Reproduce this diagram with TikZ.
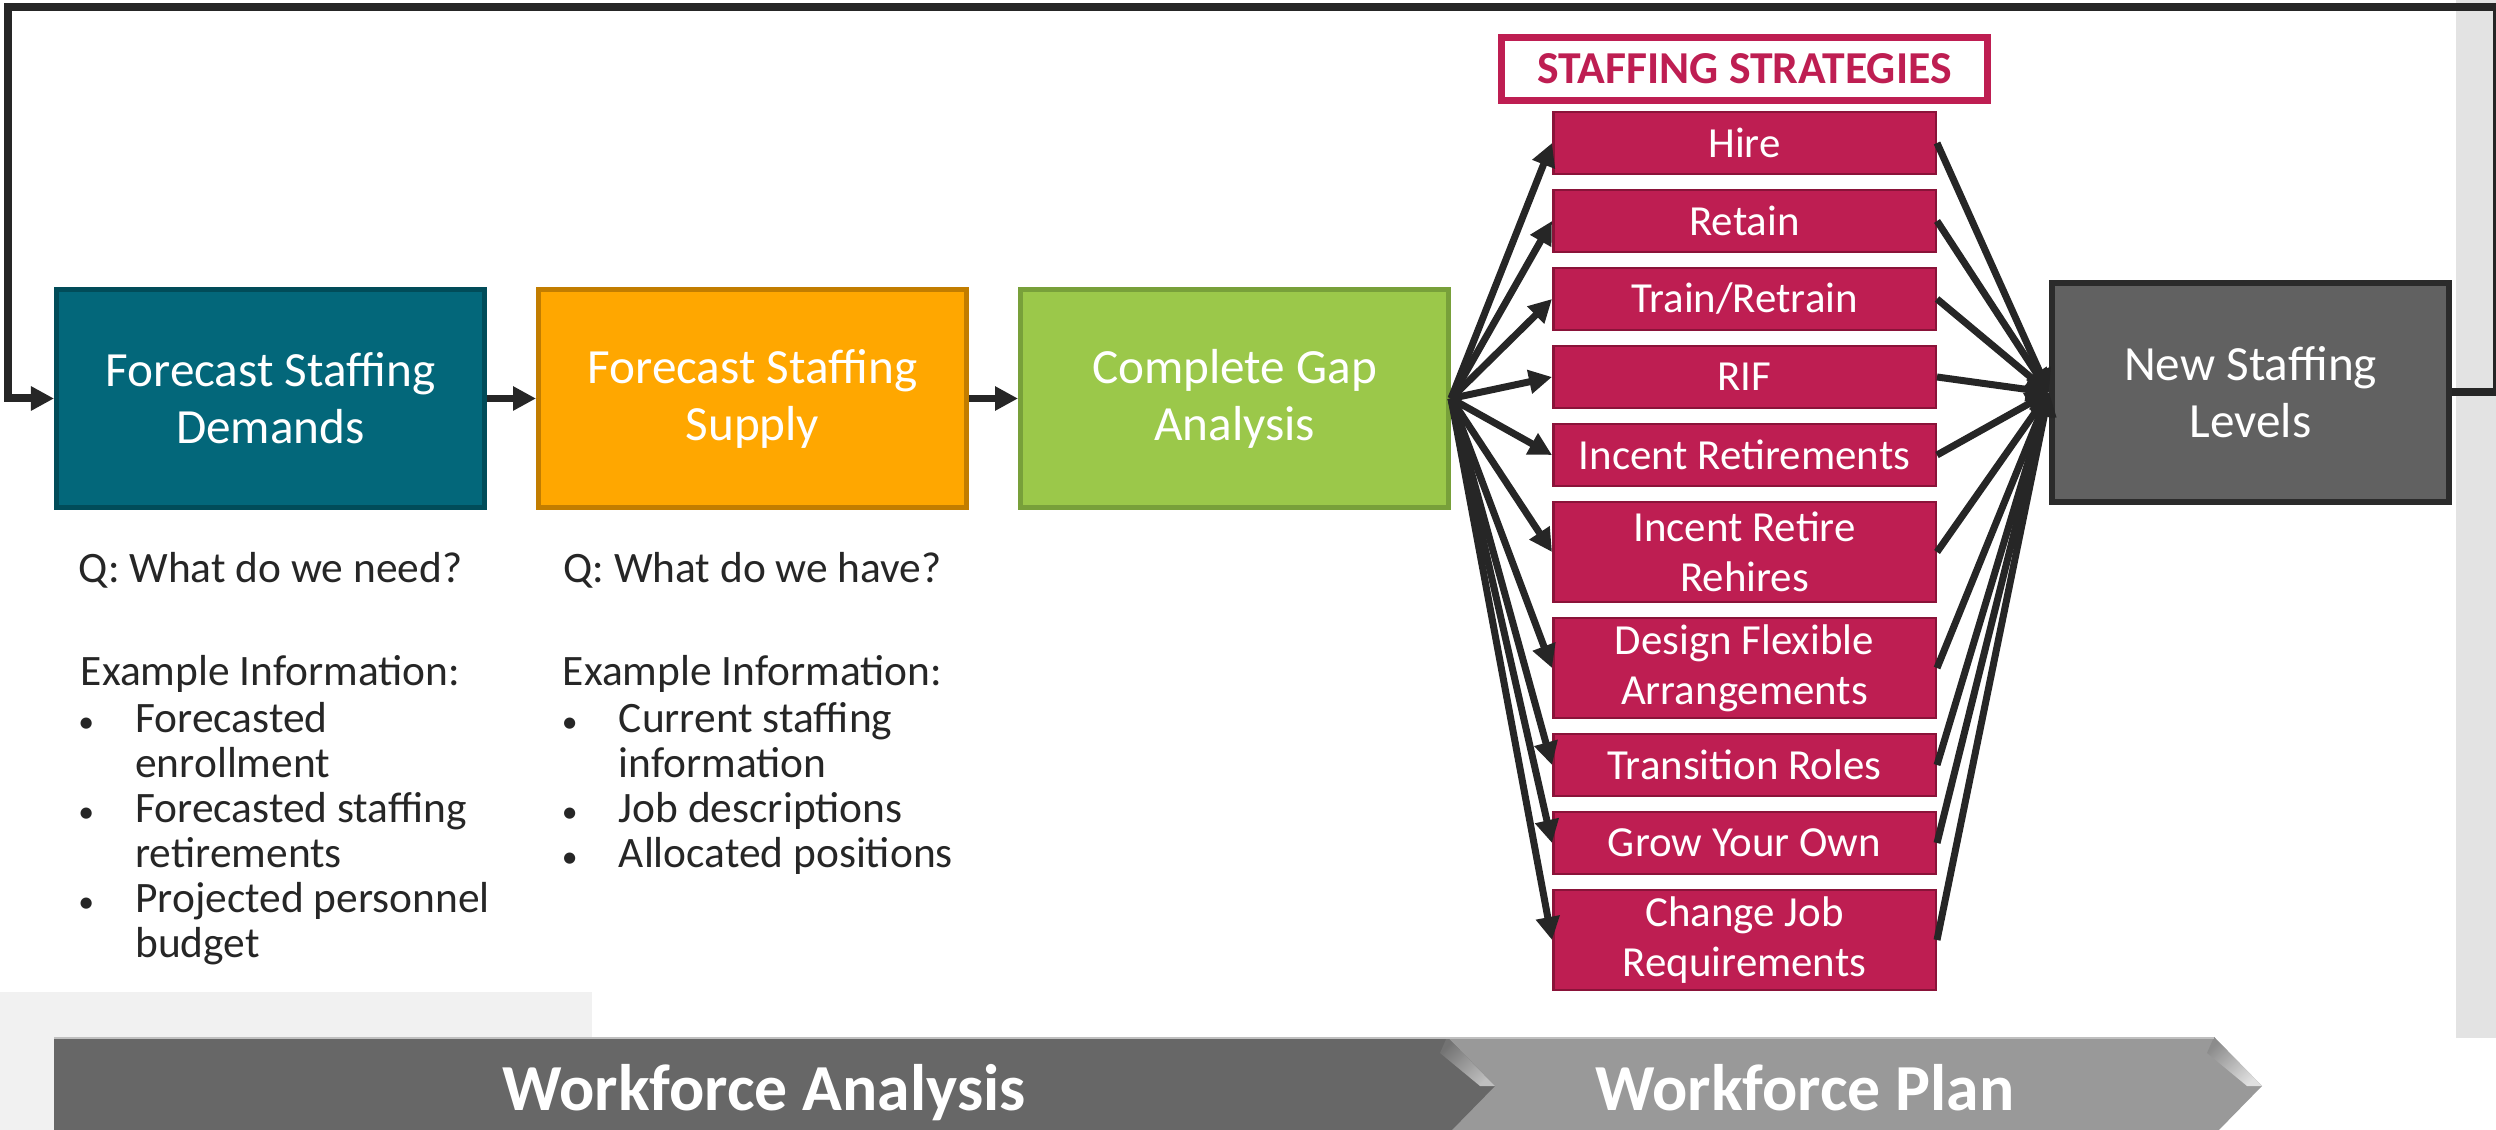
\documentclass[tikz,border=0pt]{standalone}
\usepackage{fontspec}
\setmainfont{Carlito}
\usepackage{xcolor}
\usetikzlibrary{arrows.meta,positioning}

\definecolor{tealfill}{HTML}{03677A}
\definecolor{tealline}{HTML}{014C59}
\definecolor{orangefill}{HTML}{FFA700}
\definecolor{orangeline}{HTML}{C27D00}
\definecolor{greenfill}{HTML}{9BC84A}
\definecolor{greenline}{HTML}{78A03A}
\definecolor{stratfill}{HTML}{BE1E52}
\definecolor{stratline}{HTML}{8A1339}
\definecolor{levelfill}{HTML}{616161}
\definecolor{levelline}{HTML}{2B2B2B}
\definecolor{arrowdark}{HTML}{262626}
\definecolor{notetext}{HTML}{262626}
\definecolor{analysisband}{HTML}{676767}
\definecolor{planband}{HTML}{999999}
\definecolor{panelleft}{HTML}{F1F1F1}
\definecolor{panelright}{HTML}{E3E3E3}

\newcommand{\bul}{{\fontsize{9}{9}\selectfont\textbullet}}

\begin{document}
\begin{tikzpicture}[
  x=1mm, y=-1mm,
  node distance=1.35mm and 4.9mm,
  stage/.style={draw, line width=0.5mm, align=center, text=white, inner sep=0pt,
                font=\fontsize{14}{16.2}\selectfont,
                minimum width=42.8mm, minimum height=21.8mm},
  strat/.style={draw=stratline, fill=stratfill, line width=0.25mm, align=center,
                text=white, inner sep=0pt, font=\fontsize{12.2}{14.2}\selectfont,
                minimum width=38.25mm, minimum height=6.2mm},
  strattwo/.style={strat, minimum height=10mm},
  heading/.style={draw=stratfill, fill=white, line width=0.7mm, text=stratfill,
                  inner sep=0pt, font=\bfseries\fontsize{13}{15}\selectfont,
                  minimum width=48.6mm, minimum height=6.3mm},
  note/.style={text=notetext, inner sep=0pt, font=\fontsize{12.35}{12.8}\selectfont},
  band/.style={text=white, inner sep=0pt, font=\bfseries\fontsize{18.7}{21}\selectfont},
  arr/.style={-{Triangle[length=2.3mm, width=2.3mm]}, line width=0.7mm, draw=arrowdark},
  loopline/.style={arr, line width=0.8mm},
]
\useasboundingbox (0,0) rectangle (249.6,113);

% grey side panels
\fill[panelleft] (0,99.2) rectangle (59.2,113);
\fill[panelright] (245.6,0) rectangle (249.6,103.8);

% process boxes
\node[stage, fill=tealfill, draw=tealline] (dem) at (27.05,39.85) {Forecast Staffing\\Demands};
\node[stage, fill=orangefill, draw=orangeline, right=of dem] (sup) {Forecast Staffing\\Supply};
\node[stage, fill=greenfill, draw=greenline, right=of sup] (gap) {Complete Gap\\Analysis};
\node[stage, fill=levelfill, draw=levelline, line width=0.6mm,
      minimum width=39.7mm, minimum height=21.9mm] (lvl) at (225.05,39.25) {New Staffing\\Levels};

% strategy column
\node[strat] (s1) at (174.45,14.3) {Hire};
\node[strat, below=of s1] (s2) {Retain};
\node[strat, below=of s2] (s3) {Train/Retrain};
\node[strat, below=of s3] (s4) {RIF};
\node[strat, below=of s4] (s5) {Incent Retirements};
\node[strattwo, below=of s5] (s6) {Incent Retire\\Rehires};
\node[strattwo, below=of s6] (s7) {Design Flexible\\Arrangements};
\node[strat, below=of s7] (s8) {Transition Roles};
\node[strat, below=of s8] (s9) {Grow Your Own};
\node[strattwo, below=of s9] (s10) {Change Job\\Requirements};
\node[heading, above=0.7mm of s1] (head) {STAFFING STRATEGIES};

% questions and example information
\node[note, anchor=base] (qdem) at ([yshift=-7.25mm]dem.south) {Q: What do we need?};
\node[note, anchor=base] (exdem) at ([yshift=-10.3mm]qdem.base) {Example Information:};
\node[note, anchor=base west] (listdem) at ([yshift=-4.7mm, xshift=-0.25mm]exdem.base west) {%
  \begin{tabular}[t]{@{}p{5.7mm}@{}l@{}}
  \bul & Forecasted\\
       & enrollment\\
  \bul & Forecasted staffing\\
       & retirements\\
  \bul & Projected personnel\\
       & budget
  \end{tabular}};

\node[note, anchor=base] (qsup) at ([yshift=-7.25mm]sup.south) {Q: What do we have?};
\node[note, anchor=base] (exsup) at ([yshift=-10.3mm]qsup.base) {Example Information:};
\node[note, anchor=base west] (listsup) at ([yshift=-4.7mm, xshift=-0.1mm]exsup.base west) {%
  \begin{tabular}[t]{@{}p{5.7mm}@{}l@{}}
  \bul & Current staffing\\
       & information\\
  \bul & Job descriptions\\
  \bul & Allocated positions
  \end{tabular}};

% connectors
\draw[arr] (dem.east) -- (sup.west);
\draw[arr] (sup.east) -- (gap.west);
\foreach \s in {s1,s2,s3,s4,s5,s6,s7,s8,s9,s10} {
  \draw[arr] (gap.east) -- (\s.west);
  \draw[arr] (\s.east) -- (lvl.west);
}
\coordinate (loopR) at (249.7,0.7);
\coordinate (loopL) at (0.8,0.7);
\draw[loopline] (lvl.east) -| (loopR) -- (loopL) |- (dem.west);

% phase bands along the bottom
\fill[planband] (139.9,103.7) -- (221.4,103.7) -- (226.2,108.6) -- (221.4,113.5)
  -- (139.9,113.5) -- (144.7,108.6) -- cycle;
\shade[left color=black!45, right color=black!12, shading angle=45]
  (221.4,103.7) -- (226.2,108.6) -- (224.7,108.6) -- (220.7,105.3) -- cycle;
\fill[analysisband] (5.4,103.7) -- (144.7,103.7) -- (149.5,108.6) -- (144.7,113.5)
  -- (5.4,113.5) -- cycle;
\shade[left color=black!55, right color=black!25, shading angle=45]
  (144.7,103.7) -- (149.5,108.6) -- (148.0,108.6) -- (144.0,105.3) -- cycle;
\draw[black!25, line width=0.2mm] (5.4,103.8) -- (221.4,103.8);
\node[band, anchor=base] (analysis) at (76.4,111.0) {Workforce Analysis};
\node[band, anchor=base] (plan) at (180.5,111.0) {Workforce Plan};
\end{tikzpicture}
\end{document}
